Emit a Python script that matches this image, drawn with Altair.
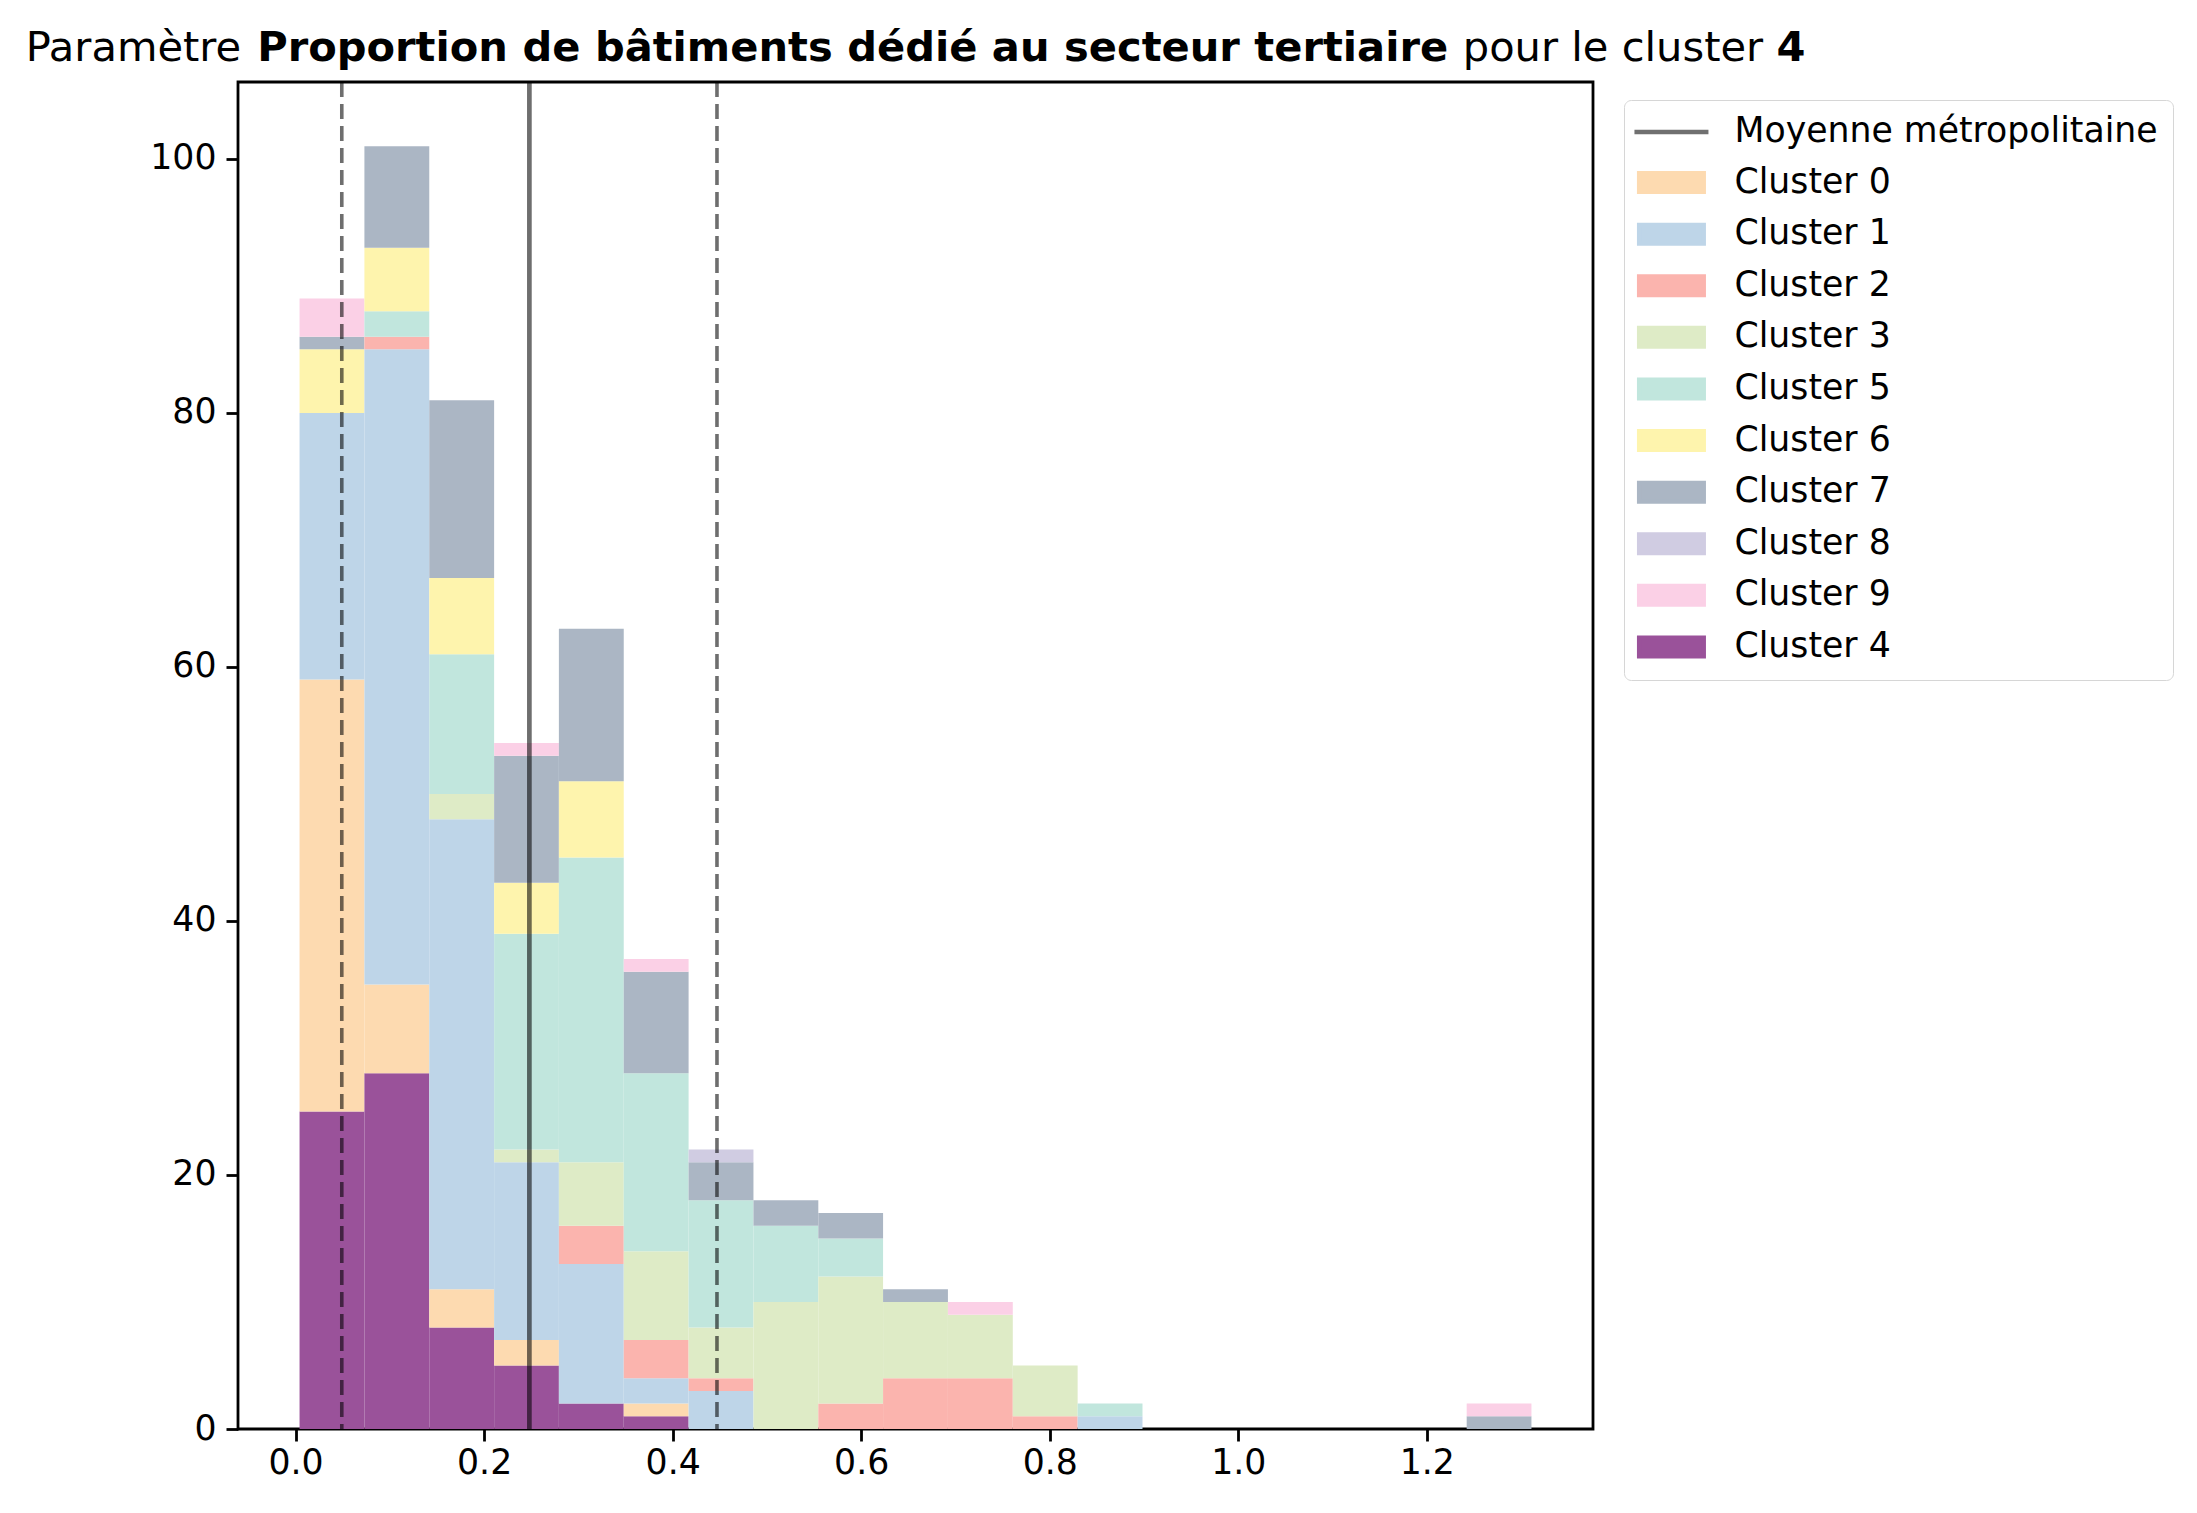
import altair as alt
import pandas as pd

# ---- data ----
edges = [0.0042, 0.0730, 0.1418, 0.2106, 0.2793, 0.3481, 0.4169, 0.4857, 0.5545,
         0.6232, 0.6920, 0.7608, 0.8296, 0.8984, 0.9671, 1.0359, 1.1047, 1.1735,
         1.2423, 1.3110]

cluster_4 = [25, 28, 8, 5, 2, 1, 0, 0, 0, 0, 0, 0, 0, 0, 0, 0, 0, 0, 0]
cluster_0 = [34, 7, 3, 2, 0, 1, 0, 0, 0, 0, 0, 0, 0, 0, 0, 0, 0, 0, 0]
cluster_1 = [21, 50, 37, 14, 11, 2, 3, 0, 0, 0, 0, 0, 1, 0, 0, 0, 0, 0, 0]
cluster_2 = [0, 1, 0, 0, 3, 3, 1, 0, 2, 4, 4, 1, 0, 0, 0, 0, 0, 0, 0]
cluster_3 = [0, 0, 2, 1, 5, 7, 4, 10, 10, 6, 5, 4, 0, 0, 0, 0, 0, 0, 0]
cluster_5 = [0, 2, 11, 17, 24, 14, 10, 6, 3, 0, 0, 0, 1, 0, 0, 0, 0, 0, 0]
cluster_6 = [5, 5, 6, 4, 6, 0, 0, 0, 0, 0, 0, 0, 0, 0, 0, 0, 0, 0, 0]
cluster_7 = [1, 8, 14, 10, 12, 8, 3, 2, 2, 1, 0, 0, 0, 0, 0, 0, 0, 0, 1]
cluster_8 = [0, 0, 0, 0, 0, 0, 1, 0, 0, 0, 0, 0, 0, 0, 0, 0, 0, 0, 0]
cluster_9 = [3, 0, 0, 1, 0, 1, 0, 0, 0, 0, 1, 0, 0, 0, 0, 0, 0, 0, 1]

mean_value = [0.248]
std_bounds = [0.049, 0.447]

stack_order = ["Cluster 4", "Cluster 0", "Cluster 1", "Cluster 2", "Cluster 3",
               "Cluster 5", "Cluster 6", "Cluster 7", "Cluster 8", "Cluster 9"]
series = {"Cluster 4": cluster_4, "Cluster 0": cluster_0, "Cluster 1": cluster_1,
          "Cluster 2": cluster_2, "Cluster 3": cluster_3, "Cluster 5": cluster_5,
          "Cluster 6": cluster_6, "Cluster 7": cluster_7, "Cluster 8": cluster_8,
          "Cluster 9": cluster_9}

legend_domain = ["Moyenne métropolitaine", "Cluster 0", "Cluster 1", "Cluster 2",
                 "Cluster 3", "Cluster 5", "Cluster 6", "Cluster 7", "Cluster 8",
                 "Cluster 9", "Cluster 4"]
legend_colors = ["#707070", "#fddab0", "#bed5e8", "#fbb4ae", "#deebc6", "#c1e6dd",
                 "#fef4ad", "#abb6c4", "#d0cce2", "#fbd0e6", "#9a529a"]

title_parts = [("Paramètre", "normal"),
               ("Proportion de bâtiments dédié au secteur tertiaire", "bold"),
               ("pour le cluster", "normal"),
               ("4", "bold")]

# ---- build the stacked table ----
rows = []
for i in range(len(edges) - 1):
    base = 0
    for c in stack_order:
        v = series[c][i]
        if v > 0:
            rows.append(dict(x0=edges[i], x1=edges[i + 1], y0=base, y1=base + v,
                             cluster=c, count=v))
        base += v
df = pd.DataFrame(rows)

W, H = 1355, 1347
FONT = "DejaVu Sans"
TICK_FS = 34.7
TITLE_FS = 41.6

x_scale = alt.Scale(domain=[-0.0611, 1.3763], nice=False, zero=False)
y_scale = alt.Scale(domain=[0, 106.05], nice=False, zero=False)

common_axis = dict(title=None, grid=False, domain=False, tickSize=12, tickWidth=2.8,
                   tickColor="black", labelFontSize=TICK_FS, labelFont=FONT,
                   labelColor="black", labelFlush=False,
                   labelOverlap=False, labelBound=False)

bars = alt.Chart(df).mark_rect(strokeWidth=0).encode(
    x=alt.X("x0:Q", scale=x_scale,
            axis=alt.Axis(values=[0, 0.2, 0.4, 0.6, 0.8, 1.0, 1.2], format=".1f",
                          labelPadding=5, **common_axis)),
    x2="x1:Q",
    y=alt.Y("y0:Q", scale=y_scale,
            axis=alt.Axis(values=[0, 20, 40, 60, 80, 100], format="d",
                          labelPadding=10, **common_axis)),
    y2="y1:Q",
    color=alt.Color("cluster:N",
                    scale=alt.Scale(domain=legend_domain[1:], range=legend_colors[1:]),
                    legend=None),
)

mean_rule = alt.Chart(pd.DataFrame({"v": mean_value})).mark_rule(
    color="black", opacity=0.57, strokeWidth=4.7
).encode(x=alt.X("v:Q", scale=x_scale))

std_rule = alt.Chart(pd.DataFrame({"v": std_bounds})).mark_rule(
    color="black", opacity=0.57, strokeWidth=3.6, strokeDash=[15, 7]
).encode(x=alt.X("v:Q", scale=x_scale))

# ---- legend: a point layer with no valid position (filtered), only its legend shows ----
SYM_SIZE = 625  # unit square side 25 px; paths below extend beyond it
RECT = "M-2.584,-0.744H2.584V0.744H-2.584Z"
LINE = "M-2.96,0H2.96"
legend_tbl = pd.DataFrame({"series": legend_domain,
                           "px": [None] * len(legend_domain),
                           "py": [None] * len(legend_domain)})
leg = alt.Legend(
    title=None, orient="none", legendX=1386, legendY=18,
    symbolSize=SYM_SIZE, symbolStrokeWidth=4.4, symbolOpacity=1, symbolOffset=15.5,
    labelFontSize=TICK_FS, labelFont=FONT, labelColor="black", labelOffset=45.7,
    labelLimit=1000,
    rowPadding=14.6, padding=14.6, strokeColor="#d6d6d6", fillColor="white",
    cornerRadius=7,
)
legend_layer = alt.Chart(legend_tbl).mark_point(
    filled=True, opacity=1, strokeWidth=4.4, size=SYM_SIZE
).encode(
    x=alt.X("px:Q", scale=x_scale),
    y=alt.Y("py:Q", scale=y_scale),
    fill=alt.Fill("series:N", scale=alt.Scale(domain=legend_domain, range=legend_colors),
                  legend=leg),
    stroke=alt.Stroke("series:N", scale=alt.Scale(domain=legend_domain, range=legend_colors),
                      legend=leg),
    shape=alt.Shape("series:N",
                    scale=alt.Scale(domain=legend_domain,
                                    range=[LINE] + [RECT] * (len(legend_domain) - 1)),
                    legend=leg),
)

# ---- title with mixed weights ----
normal_w = {' ': 651, 'P': 1235, 'a': 1255, 'r': 842, 'm': 1995, 'è': 1260, 't': 803,
            'e': 1260, 'p': 1300, 'o': 1253, 'u': 1298, 'l': 569, 'c': 1126, 's': 1067}
bold_w = {' ': 713, 'P': 1500, 'r': 1010, 'o': 1407, 'p': 1466, 't': 979, 'i': 702,
          'n': 1458, 'd': 1466, 'e': 1389, 'b': 1466, 'â': 1382, 'm': 2134, 's': 1219,
          'é': 1389, 'a': 1382, 'u': 1458, 'c': 1214, '4': 1425}


def text_w(s, weight):
    table = bold_w if weight == "bold" else normal_w
    return sum(table.get(ch, 1250) for ch in s) / 2048 * TITLE_FS


widths = []
for k, (txt, wt) in enumerate(title_parts):
    w = text_w(txt, wt)
    if k < len(title_parts) - 1:
        w += text_w(" ", wt)
    widths.append(w)
total = sum(widths)
start = W / 2 - total / 2

title_layers = []
pos = start
for (txt, wt), w in zip(title_parts, widths):
    title_layers.append(
        alt.Chart(pd.DataFrame({"t": [txt]})).mark_text(
            align="left", baseline="alphabetic", font=FONT, fontSize=TITLE_FS,
            fontWeight=wt, color="black"
        ).encode(text="t:N", x=alt.value(pos), y=alt.value(-21))
    )
    pos += w

chart = alt.layer(bars, mean_rule, std_rule, legend_layer, *title_layers).properties(
    width=W, height=H,
    autosize=alt.AutoSizeParams(type="none"),
    padding={"left": 230, "top": 74, "right": 596, "bottom": 76},
).configure(font=FONT).configure_view(stroke="black", strokeWidth=2.8)

chart.save("out.html", embed_options={"renderer": "svg", "actions": False})
